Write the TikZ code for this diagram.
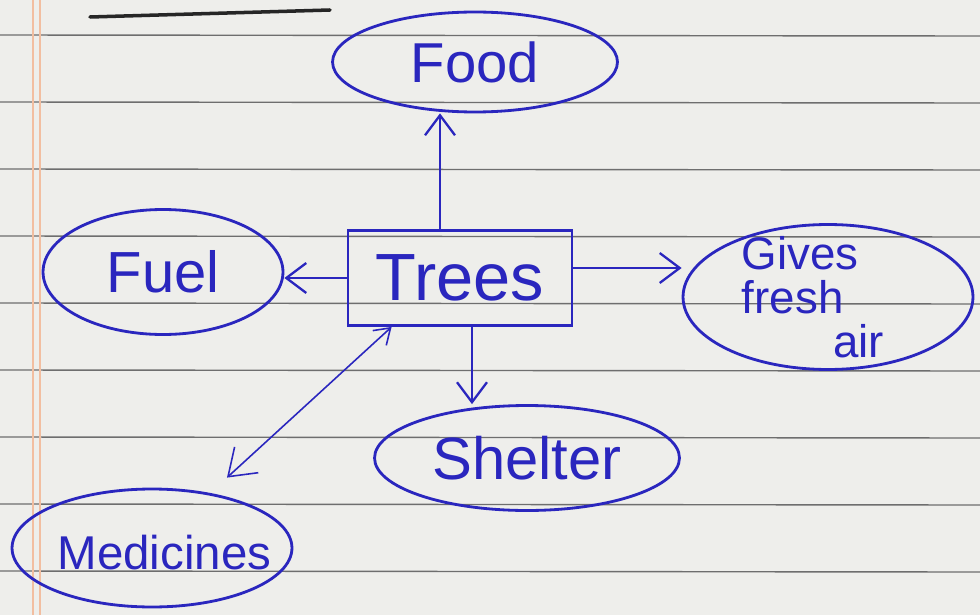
\documentclass[tikz,border=0pt]{standalone}
\usepackage{fontspec}
\setmainfont{Liberation Sans}
\usetikzlibrary{shapes.geometric,arrows.meta}
\definecolor{ink}{RGB}{42,38,190}
\definecolor{paper}{RGB}{238,238,235}
\definecolor{rule}{RGB}{110,110,110}
\definecolor{margin}{RGB}{242,190,160}
\tikzset{
  bubble/.style={draw=ink,line width=1.6pt,ellipse,inner sep=0pt},
  word/.style={text=ink,inner sep=0pt,font=\fontsize{#1}{#1}\selectfont},
  word/.default=30,
  box/.style={draw=ink,line width=1.6pt,rectangle,inner sep=0pt,text=ink,font=\fontsize{38}{40}\selectfont},
  arr/.style={draw=ink,line width=1.3pt,-{Straight Barb[length=4mm,width=6mm]}},
  thinarr/.style={draw=ink,line width=0.9pt,{Straight Barb[length=3mm,width=4mm]}-{Straight Barb[length=5mm,width=7mm]}},
  ruled/.style={draw=rule,line width=0.8pt}
}
\begin{document}
\begin{tikzpicture}[x=0.02cm,y=-0.02cm]
\fill[paper] (0,0) rectangle (980,615);
\useasboundingbox (0,0) rectangle (980,615);
% ruled lines
\foreach \yy in {35,102,169,236,303,370,437,504,571} {
  \draw[ruled] (0,\yy) -- (980,\yy+1);
}
% margin
\draw[margin,line width=1pt] (33,0) -- (33,615);
\draw[margin,line width=1pt] (40,0) -- (40,615);
% top pen stroke
\draw[black!85,line width=2pt,line cap=round] (90,17) -- (330,10);
% nodes
\node[box,minimum width=4.48cm,minimum height=1.9cm] (trees) at (460,278) {Trees};
\node[bubble,minimum width=5.7cm,minimum height=2.0cm,label={[word=32]center:Food}] (food) at (475,62) {};
\node[bubble,minimum width=4.8cm,minimum height=2.5cm,label={[word=33]center:Fuel}] (fuel) at (163,272) {};
\node[bubble,minimum width=5.8cm,minimum height=2.9cm,
      label={[word=26,align=left,font=\fontsize{26}{25}\selectfont,xshift=-0.3cm,yshift=0cm]center:Gives\\fresh\\\hspace*{2em}air}] (gives) at (828,297) {};
\node[bubble,minimum width=6.1cm,minimum height=2.1cm,label={[word=34]center:Shelter}] (shelter) at (527,458) {};
\node[bubble,minimum width=5.6cm,minimum height=2.36cm,label={[word=27,xshift=0.25cm,yshift=-0.1cm]center:Medicines}] (medicines) at (152,548) {};
% connectors
\draw[arr] ([xshift=-0.4cm]trees.north) -- ([xshift=-0.4cm]trees.north |- food.south);
\draw[arr] (trees.west) -- (fuel.east |- trees.west);
\draw[arr] ([yshift=0.2cm]trees.east) -- ([yshift=0.2cm]gives.west |- trees.east);
\draw[arr] ([xshift=0.24cm]trees.south) -- ([xshift=0.24cm]trees.south |- shelter.north);
\draw[thinarr] ([xshift=0.9cm]trees.south west) -- ([xshift=1.5cm,yshift=0.2cm]medicines.north);
\end{tikzpicture}
\end{document}
